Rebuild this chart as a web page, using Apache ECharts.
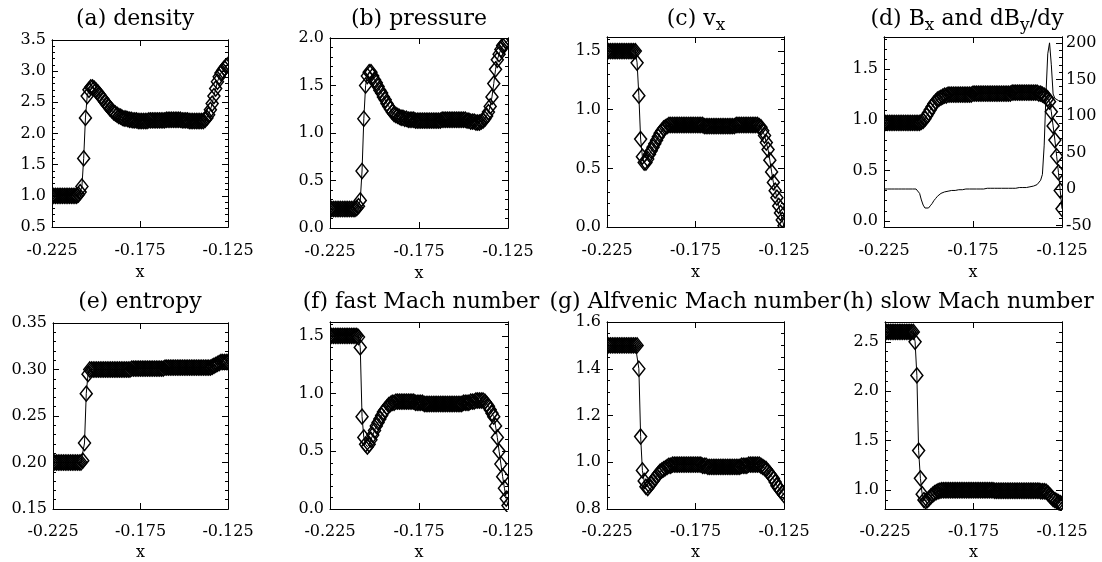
<!DOCTYPE html>
<html>
<head>
<meta charset="utf-8">
<script src="https://cdn.jsdelivr.net/npm/echarts@6/dist/echarts.min.js"></script>
<style>
html, body { margin: 0; padding: 0; background: #fff; }
#chart { width: 1102px; height: 562px; }
</style>
</head>
<body>
<div id="chart"></div>
<script>
// grid positions along x (shared by every panel)
const xs = [
  -0.225,-0.224,-0.223,-0.222,-0.221,-0.220,-0.219,-0.218,-0.217,-0.216,
  -0.215,-0.214,-0.213,-0.212,-0.211,-0.210,-0.209,-0.208,-0.207,-0.206,
  -0.205,-0.204,-0.203,-0.202,-0.201,-0.200,-0.199,-0.198,-0.197,-0.196,
  -0.195,-0.194,-0.193,-0.192,-0.191,-0.190,-0.189,-0.188,-0.187,-0.186,
  -0.185,-0.184,-0.183,-0.182,-0.181,-0.180,-0.179,-0.178,-0.177,-0.176,
  -0.175,-0.174,-0.173,-0.172,-0.171,-0.170,-0.169,-0.168,-0.167,-0.166,
  -0.165,-0.164,-0.163,-0.162,-0.161,-0.160,-0.159,-0.158,-0.157,-0.156,
  -0.155,-0.154,-0.153,-0.152,-0.151,-0.150,-0.149,-0.148,-0.147,-0.146,
  -0.145,-0.144,-0.143,-0.142,-0.141,-0.140,-0.139,-0.138,-0.137,-0.136,
  -0.135,-0.134,-0.133,-0.132,-0.131,-0.130,-0.129,-0.128,-0.127,-0.126,
  -0.125
];

const density = [
  1.00,1.00,1.00,1.00,1.00,1.00,1.00,1.00,1.00,1.00,
  1.00,1.00,1.00,1.00,1.00,1.02,1.06,1.15,1.60,2.25,
  2.60,2.70,2.74,2.74,2.72,2.69,2.66,2.62,2.58,2.55,
  2.51,2.47,2.44,2.40,2.37,2.34,2.32,2.30,2.28,2.27,
  2.25,2.24,2.24,2.23,2.22,2.22,2.21,2.21,2.21,2.20,
  2.20,2.20,2.20,2.20,2.20,2.21,2.21,2.21,2.21,2.21,
  2.21,2.21,2.21,2.21,2.21,2.22,2.22,2.22,2.22,2.22,
  2.22,2.22,2.22,2.22,2.21,2.21,2.21,2.21,2.20,2.20,
  2.20,2.20,2.20,2.20,2.20,2.20,2.20,2.22,2.25,2.30,
  2.38,2.48,2.60,2.72,2.83,2.91,2.97,3.01,3.05,3.08,
  3.10
];

const pressure = [
  0.20,0.20,0.20,0.20,0.20,0.20,0.20,0.20,0.20,0.20,
  0.20,0.20,0.20,0.20,0.20,0.21,0.23,0.29,0.60,1.15,
  1.50,1.60,1.64,1.64,1.60,1.56,1.53,1.49,1.45,1.42,
  1.38,1.35,1.31,1.28,1.25,1.22,1.20,1.19,1.18,1.17,
  1.16,1.16,1.15,1.15,1.14,1.14,1.14,1.14,1.13,1.13,
  1.13,1.13,1.13,1.13,1.13,1.13,1.13,1.13,1.13,1.13,
  1.13,1.13,1.13,1.14,1.14,1.14,1.14,1.14,1.14,1.14,
  1.14,1.14,1.14,1.14,1.14,1.14,1.14,1.13,1.13,1.12,
  1.12,1.12,1.11,1.11,1.11,1.12,1.13,1.15,1.18,1.22,
  1.28,1.38,1.52,1.67,1.77,1.83,1.88,1.92,1.94,1.96,
  1.97
];

const vx = [
  1.50,1.50,1.50,1.50,1.50,1.50,1.50,1.50,1.50,1.50,
  1.50,1.50,1.50,1.50,1.50,1.50,1.50,1.40,1.12,0.75,
  0.60,0.55,0.55,0.58,0.62,0.65,0.68,0.71,0.74,0.77,
  0.80,0.82,0.84,0.85,0.86,0.87,0.87,0.87,0.87,0.87,
  0.87,0.87,0.87,0.87,0.87,0.87,0.87,0.87,0.87,0.87,
  0.87,0.87,0.87,0.87,0.87,0.86,0.86,0.86,0.86,0.86,
  0.86,0.86,0.86,0.86,0.86,0.86,0.86,0.86,0.86,0.86,
  0.86,0.86,0.86,0.87,0.87,0.87,0.87,0.87,0.87,0.87,
  0.87,0.87,0.87,0.87,0.87,0.87,0.86,0.85,0.82,0.78,
  0.72,0.66,0.57,0.47,0.38,0.31,0.25,0.18,0.12,0.06,
  0.01
];

const bx = [
  0.97,0.97,0.97,0.97,0.97,0.97,0.97,0.97,0.97,0.97,
  0.97,0.97,0.97,0.97,0.97,0.97,0.97,0.97,0.97,0.97,
  0.97,0.98,0.99,1.01,1.04,1.07,1.10,1.13,1.16,1.18,
  1.20,1.21,1.22,1.23,1.24,1.24,1.25,1.25,1.25,1.25,
  1.25,1.25,1.25,1.25,1.25,1.25,1.25,1.25,1.25,1.25,
  1.26,1.26,1.26,1.26,1.26,1.26,1.26,1.26,1.26,1.26,
  1.26,1.26,1.26,1.26,1.26,1.26,1.26,1.26,1.26,1.26,
  1.26,1.26,1.27,1.27,1.27,1.27,1.27,1.27,1.27,1.27,
  1.27,1.27,1.27,1.27,1.27,1.27,1.27,1.26,1.26,1.25,
  1.24,1.23,1.21,1.18,1.08,0.94,0.80,0.64,0.48,0.30,
  0.12
];

const dbydy = [
  0,0,0,0,0,0,0,0,0,0,
  0,0,0,0,0,0,0,0,0,-1,
  -6,-15,-22,-26,-27,-26,-23,-20,-16,-13,
  -10,-8,-6,-5,-4,-3,-3,-2,-2,-2,
  -2,-2,-1,-1,-1,-1,0,0,0,0,
  0,0,0,0,0,0,0,1,1,1,
  1,1,1,1,1,1,1,1,1,1,
  1,1,1,1,1,2,2,2,2,2,
  2,2,3,3,4,5,6,8,12,20,
  60,130,185,200,170,130,124,122,121,120,
  120
];

const entropy = [
  0.200,0.200,0.200,0.200,0.200,0.200,0.200,0.200,0.200,0.200,
  0.200,0.200,0.200,0.200,0.200,0.200,0.200,0.202,0.221,0.274,
  0.295,0.300,0.300,0.300,0.300,0.300,0.300,0.300,0.300,0.300,
  0.300,0.300,0.300,0.300,0.300,0.300,0.300,0.300,0.300,0.300,
  0.300,0.300,0.300,0.300,0.300,0.301,0.301,0.301,0.301,0.301,
  0.301,0.301,0.301,0.301,0.301,0.301,0.301,0.301,0.301,0.301,
  0.301,0.301,0.301,0.301,0.302,0.302,0.302,0.302,0.302,0.302,
  0.302,0.302,0.302,0.302,0.302,0.302,0.302,0.302,0.302,0.302,
  0.302,0.302,0.302,0.302,0.302,0.302,0.302,0.302,0.302,0.302,
  0.302,0.303,0.304,0.305,0.306,0.307,0.308,0.308,0.308,0.308,
  0.308
];

const fastMach = [
  1.50,1.50,1.50,1.50,1.50,1.50,1.50,1.50,1.50,1.50,
  1.50,1.50,1.50,1.50,1.50,1.50,1.49,1.40,0.80,0.62,
  0.56,0.54,0.56,0.60,0.64,0.68,0.72,0.75,0.78,0.81,
  0.84,0.86,0.88,0.90,0.91,0.92,0.92,0.93,0.93,0.93,
  0.93,0.93,0.93,0.93,0.93,0.93,0.93,0.93,0.92,0.92,
  0.92,0.92,0.92,0.91,0.91,0.91,0.91,0.91,0.91,0.91,
  0.91,0.91,0.91,0.91,0.91,0.91,0.91,0.91,0.91,0.91,
  0.91,0.91,0.91,0.91,0.91,0.92,0.92,0.92,0.92,0.93,
  0.93,0.93,0.94,0.94,0.94,0.94,0.94,0.93,0.91,0.89,
  0.86,0.83,0.80,0.72,0.62,0.50,0.39,0.28,0.18,0.09,
  0.03
];

const alfvenMach = [
  1.50,1.50,1.50,1.50,1.50,1.50,1.50,1.50,1.50,1.50,
  1.50,1.50,1.50,1.50,1.50,1.50,1.50,1.50,1.40,1.11,
  0.965,0.92,0.895,0.89,0.90,0.91,0.92,0.93,0.94,0.95,
  0.96,0.965,0.97,0.975,0.98,0.985,0.985,0.99,0.99,0.99,
  0.99,0.99,0.99,0.99,0.99,0.99,0.99,0.99,0.99,0.99,
  0.99,0.99,0.99,0.99,0.985,0.985,0.985,0.98,0.98,0.98,
  0.98,0.98,0.98,0.98,0.98,0.98,0.98,0.98,0.98,0.98,
  0.98,0.98,0.98,0.98,0.98,0.98,0.985,0.985,0.985,0.985,
  0.99,0.99,0.99,0.99,0.99,0.99,0.99,0.985,0.98,0.975,
  0.97,0.96,0.95,0.94,0.93,0.915,0.90,0.89,0.88,0.87,
  0.86
];

const slowMach = [
  2.60,2.60,2.60,2.60,2.60,2.60,2.60,2.60,2.60,2.60,
  2.60,2.60,2.60,2.60,2.60,2.60,2.60,2.50,2.16,1.40,
  1.12,0.96,0.90,0.89,0.90,0.92,0.94,0.955,0.97,0.98,
  0.99,0.995,1.00,1.00,1.00,1.00,1.00,1.00,1.00,1.00,
  1.00,1.00,1.00,1.00,1.00,1.00,1.00,1.00,1.00,1.00,
  1.00,1.00,1.00,1.00,1.00,1.00,1.00,1.00,1.00,1.00,
  1.00,1.00,0.995,0.995,0.995,0.995,0.995,0.995,0.995,0.995,
  0.995,0.995,0.995,0.995,0.995,0.995,0.995,0.995,0.995,0.995,
  0.995,0.995,0.995,0.995,0.995,0.995,0.995,0.995,0.99,0.99,
  0.99,0.985,0.97,0.95,0.93,0.91,0.90,0.89,0.88,0.87,
  0.86
];

// tick labels
const xTicks = [-0.225, -0.175, -0.125];
const densityTicks = [0.5, 1.0, 1.5, 2.0, 2.5, 3.0, 3.5];
const pressureTicks = [0.0, 0.5, 1.0, 1.5, 2.0];
const vxTicks = [0.0, 0.5, 1.0, 1.5];
const bxTicks = [0.0, 0.5, 1.0, 1.5];
const dbyTicks = [-50, 0, 50, 100, 150, 200];
const entropyTicks = [0.15, 0.20, 0.25, 0.30, 0.35];
const fastTicks = [0.0, 0.5, 1.0, 1.5];
const alfvenTicks = [0.8, 1.0, 1.2, 1.4, 1.6];
const slowTicks = [1.0, 1.5, 2.0, 2.5];

const FONT = 'DejaVu Serif';

// layout of each panel: box = [left, top, width, height]
const panels = [
  { title: '(a) density', tx: 135, row: 0, box: [52, 40, 176, 187], min: 0.5, max: 3.5, ticks: densityTicks, minor: 0.1, dec: 1, values: density },
  { title: '(b) pressure', tx: 419, row: 0, box: [330, 38, 178, 190], min: 0, max: 2, ticks: pressureTicks, minor: 0.1, dec: 1, values: pressure },
  { title: '(c) v{sub|x}', tx: 696, row: 0, box: [607, 37, 177, 190], min: 0, max: 1.62, ticks: vxTicks, minor: 0.1, dec: 1, values: vx },
  { title: '(d) B{sub|x} and dB{sub|y}/dy', tx: 967, row: 0, box: [884, 37, 178, 190], min: -0.06, max: 1.82, ticks: bxTicks, minor: 0.1, dec: 1, values: bx,
    right: { min: -52, max: 208, ticks: dbyTicks, minor: 10, dec: 0, values: dbydy } },
  { title: '(e) entropy', tx: 140, row: 1, box: [53, 323, 175, 188], min: 0.15, max: 0.35, ticks: entropyTicks, minor: 0.01, dec: 2, values: entropy },
  { title: '(f) fast Mach number', tx: 421, row: 1, box: [330, 322, 178, 190], min: 0, max: 1.62, ticks: fastTicks, minor: 0.1, dec: 1, values: fastMach },
  { title: '(g) Alfvenic Mach number', tx: 695, row: 1, box: [607, 322, 177, 189], min: 0.8, max: 1.6, ticks: alfvenTicks, minor: 0.05, dec: 1, values: alfvenMach },
  { title: '(h) slow Mach number', tx: 968, row: 1, box: [885, 322, 177, 189], min: 0.81, max: 2.7, ticks: slowTicks, minor: 0.1, dec: 1, values: slowMach }
];

const black = { color: '#000', width: 1 };
const labelFont = { fontFamily: FONT, fontSize: 16, color: '#000' };

function minorList(min, max, step, majors) {
  const out = [];
  const k0 = Math.ceil(min / step - 1e-6), k1 = Math.floor(max / step + 1e-6);
  for (let k = k0; k <= k1; k++) {
    const v = +(k * step).toFixed(6);
    if (v <= min || v >= max) continue;
    if (majors.some(m => Math.abs(m - v) < step * 0.01)) continue;
    out.push(v);
  }
  return out;
}

function valueAxis(gi, pos, min, max, ticks, len, label) {
  return {
    gridIndex: gi, type: 'value', position: pos, min: min, max: max, z: 5,
    splitLine: { show: false },
    axisLine: { show: true, onZero: false, lineStyle: black },
    axisTick: { show: true, inside: true, length: len, customValues: ticks, lineStyle: black },
    axisLabel: label ? Object.assign({ show: true, customValues: ticks }, label) : { show: false }
  };
}

const grids = [], xAxes = [], yAxes = [], series = [], titles = [], masks = [];

panels.forEach((p, gi) => {
  const [L, T, W, H] = p.box;
  grids.push({ left: L, top: T, width: W, height: H, containLabel: false });

  const xi = xAxes.length;
  const xb = valueAxis(gi, 'bottom', -0.225, -0.125, xTicks, 6,
    Object.assign({ margin: p.row ? 15 : 16, formatter: v => v.toFixed(3) }, labelFont));
  xb.name = 'x';
  xb.nameLocation = 'middle';
  xb.nameGap = p.row ? 36 : 38;
  xb.nameTextStyle = labelFont;
  xAxes.push(xb);
  xAxes.push(valueAxis(gi, 'top', -0.225, -0.125, xTicks, 6, null));

  const yl = yAxes.length;
  yAxes.push(valueAxis(gi, 'left', p.min, p.max, p.ticks, 6,
    Object.assign({ margin: 6, formatter: v => v.toFixed(p.dec) }, labelFont)));
  yAxes.push(valueAxis(gi, 'left', p.min, p.max, minorList(p.min, p.max, p.minor, p.ticks), 3, null));

  let yr = yAxes.length;
  if (p.right) {
    const r = p.right;
    yAxes.push(valueAxis(gi, 'right', r.min, r.max, r.ticks, 6,
      Object.assign({ margin: 4, formatter: v => v.toFixed(r.dec) }, labelFont)));
    yAxes.push(valueAxis(gi, 'right', r.min, r.max, minorList(r.min, r.max, r.minor, r.ticks), 3, null));
  } else {
    yAxes.push(valueAxis(gi, 'right', p.min, p.max, p.ticks, 6, null));
    yAxes.push(valueAxis(gi, 'right', p.min, p.max, minorList(p.min, p.max, p.minor, p.ticks), 3, null));
  }

  series.push({
    type: 'line', xAxisIndex: xi, yAxisIndex: yl,
    data: xs.map((x, i) => [x, p.values[i]]),
    symbol: 'diamond', symbolSize: [12, 15], showSymbol: true, showAllSymbol: true,
    itemStyle: { color: 'rgba(0,0,0,0)', borderColor: '#000', borderWidth: 1.5 },
    lineStyle: { color: '#000', width: 1 },
    silent: true, animation: false, z: 2
  });
  if (p.right) {
    series.push({
      type: 'line', xAxisIndex: xi, yAxisIndex: yr,
      data: xs.map((x, i) => [x, p.right.values[i]]),
      showSymbol: false, lineStyle: { color: '#000', width: 1 },
      silent: true, animation: false, z: 2
    });
  }

  titles.push({
    text: p.title, left: p.tx, top: p.row ? 287.5 : 5, textAlign: 'center', padding: 0, z: 6,
    textStyle: {
      fontFamily: FONT, fontSize: 22, fontWeight: 'normal', color: '#000', lineHeight: 29,
      rich: { sub: { fontFamily: FONT, fontSize: 17, lineHeight: 17, verticalAlign: 'bottom', color: '#000' } }
    }
  });

  // white frame outside the box so diamonds are cut at the plot edges
  const m = 10;
  [[L - m, T - m, m, H + 2 * m], [L + W, T - m, m, H + 2 * m], [L, T - m, W, m], [L, T + H, W, m]].forEach(r => {
    masks.push({ type: 'rect', z: 3, silent: true, shape: { x: r[0], y: r[1], width: r[2], height: r[3] }, style: { fill: '#fff' } });
  });
});

const chart = echarts.init(document.getElementById('chart'));
chart.setOption({
  animation: false,
  backgroundColor: '#fff',
  title: titles,
  grid: grids,
  xAxis: xAxes,
  yAxis: yAxes,
  series: series,
  graphic: { elements: masks }
});
</script>
</body>
</html>
